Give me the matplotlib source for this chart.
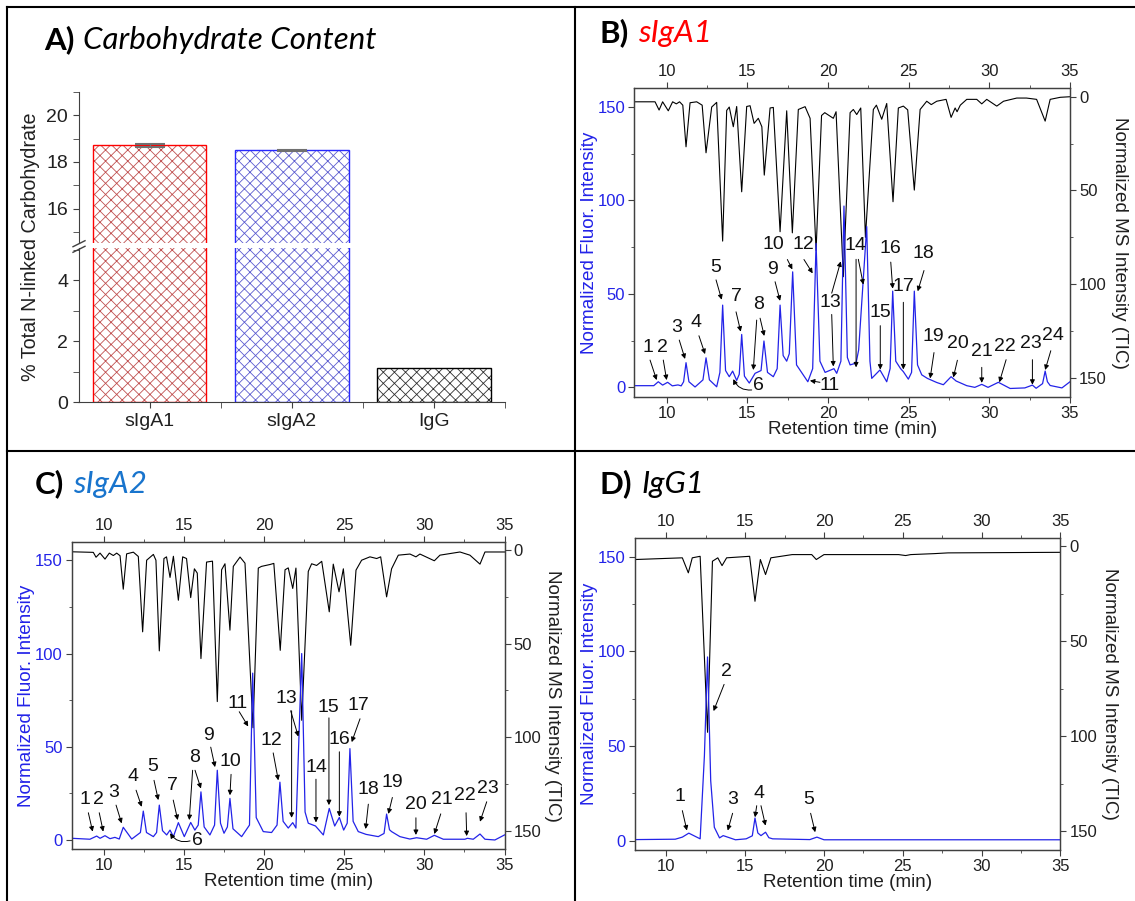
import numpy as np
import matplotlib
matplotlib.use('Agg')
import matplotlib.pyplot as plt
from matplotlib.ticker import MultipleLocator
from matplotlib.lines import Line2D

plt.rcParams['font.family'] = ['Liberation Sans', 'DejaVu Sans']
plt.rcParams['hatch.linewidth'] = 0.6

# ---------------- data ----------------
# A) carbohydrate content
samples = ['sIgA1', 'sIgA2', 'IgG']
carb_pct = [18.71, 18.50, 1.13]
carb_err = [0.06, 0.01, 0.0]

# B) sIgA1 fluorescence trace (time, intensity)
b_fl_t = [8.0, 9.2, 9.48, 9.75, 10.06, 10.35, 10.7, 10.9, 11.05, 11.2, 11.38, 11.76, 12.25, 12.44,
          12.65, 13.1, 13.3, 13.47, 13.65, 13.88, 14.09, 14.34, 14.5, 14.65, 14.82, 15.12, 15.48,
          15.85, 16.03, 16.25, 16.61, 16.85, 17.03, 17.22, 17.44, 17.6, 17.81, 18.05, 18.75, 19.05,
          19.26, 19.5, 19.82, 20.37, 20.54, 20.8, 20.99, 21.2, 21.37, 21.74, 21.9, 22.4, 22.6,
          22.71, 23.22, 23.64, 23.85, 24.01, 24.2, 24.5, 24.67, 24.98, 25.18, 25.35, 25.55, 25.81,
          26.16, 26.74, 27.15, 27.63, 27.94, 28.6, 29.1, 29.53, 29.92, 30.56, 31.29, 32.2, 32.67,
          32.9, 33.3, 33.46, 33.6, 33.77, 34.5, 35.0]
b_fl_y = [0.9, 0.9, 3.0, 1.2, 2.7, 0.8, 1.3, 0.8, 3, 13.2, 3, 0.2, 4, 15.8,
          4, 0.3, 8, 44, 9, 5.7, 8.7, 3.7, 7, 28.3, 6, 2.3, 7.5,
          9, 24.8, 8, 5.7, 10, 44, 17, 14, 18, 61.8, 12, 3, 10,
          77, 14, 8, 10, 7.5, 14, 97, 16, 12, 13, 20, 86, 14,
          4.8, 9.3, 3, 10, 51.5, 14, 10, 8.4, 4.4, 8, 51.5, 12, 6.7,
          4.8, 2.6, 1.4, 5.7, 3.4, 0.9, 0, 1.6, 0, 2.7, -0.6, -0.3, 1.2,
          -0.5, 2, 8.7, 3, 1, -0.3, 3]
# B) sIgA1 MS TIC trace
b_ms_t = [8.0, 9.28, 9.53, 9.75, 10.1, 10.37, 10.6, 10.8, 11.0, 11.2, 11.45, 11.86, 12.2, 12.44,
          12.79, 13.1, 13.47, 13.72, 13.88, 14.13, 14.34, 14.65, 14.96, 15.17, 15.42, 15.68, 15.9,
          16.05, 16.41, 16.61, 17.03, 17.44, 17.79, 18.16, 18.58, 18.89, 19.26, 19.6, 19.8, 20.33,
          20.5, 20.95, 21.37, 21.57, 21.78, 22.03, 22.32, 22.81, 23.0, 23.33, 23.64, 24.03, 24.36,
          24.67, 24.94, 25.35, 25.71, 26.12, 26.4, 26.74, 27.32, 27.63, 27.88, 28.0, 28.2, 28.6,
          29.22, 29.53, 29.84, 30.46, 30.88, 31.7, 32.3, 32.93, 33.46, 33.77, 34.4, 35.0]
b_ms_y = [2.7, 2.7, 7.1, 2.7, 7.5, 2.7, 3.8, 2.7, 4.5, 26.7, 3.2, 2.7, 4.5, 29.9,
          5.5, 3.0, 77, 7.3, 5.5, 16, 5.2, 50.7, 5.2, 4.8, 14.2, 11.5, 16,
          41.8, 6, 5.7, 72, 7.5, 72.6, 6.8, 5.3, 11.5, 82, 10, 8.5, 11.5,
          8, 96, 8.5, 6.8, 9.5, 6, 75, 6.8, 4.5, 12, 3.6, 56, 6,
          5, 7, 49.8, 6.8, 2.4, 4.2, 2.4, 1.4, 11, 6, 8, 4.5, 1.4,
          1.4, 3.8, 1.4, 5, 2.4, 0.7, 0.7, 1.4, 13, 1.4, 0.3, 0]

# C) sIgA2 fluorescence trace
c_fl_t = [8.0, 9.12, 9.54, 9.75, 10.06, 10.37, 10.68, 10.95, 11.2, 11.73, 12.27, 12.45, 12.65,
          13.08, 13.28, 13.45, 13.65, 13.91, 14.12, 14.33, 14.64, 15.01, 15.41, 15.67, 15.88, 16.05,
          16.25, 16.61, 16.9, 17.07, 17.27, 17.49, 17.7, 17.86, 18.05, 18.59, 19.08, 19.28, 19.5,
          19.94, 20.46, 20.8, 20.98, 21.18, 21.5, 21.78, 21.98, 22.34, 22.55, 22.75, 23.2, 23.69,
          24.06, 24.4, 24.69, 24.96, 25.18, 25.35, 25.55, 25.87, 26.36, 27.12, 27.48, 27.64, 27.82,
          27.95, 28.47, 29.09, 29.51, 30.14, 30.62, 31.18, 32.53, 32.68, 33.05, 33.47, 33.78,
          34.4, 35.0]
c_fl_y = [0.9, 0.4, 2.1, 0.9, 2.3, 0.7, 1.4, 0.5, 6.8, 0.5, 4, 15.5, 4,
          1.8, 4, 18.7, 5, 2.7, 5.3, 1.8, 9.3, 1.8, 9.4, 5.3, 8, 25.8,
          7, 2.7, 8, 37.4, 9, 3.6, 7, 22.3, 6, 1.8, 8, 89.5, 12,
          4.5, 4.0, 8, 31, 10, 6.4, 9.3, 6.4, 100, 15, 9, 7.5, 2.7,
          16.9, 7.5, 12.1, 5.3, 9, 49, 10, 4.5, 3, 1.8, 3.5, 13.9, 5.5,
          4.5, 1.8, 0.5, 1.2, 0.4, 2.5, 0.4, 0.4, 0.9, 0.4, 3.2, 0.4,
          0, 2.7]
# C) sIgA2 MS TIC trace
c_ms_t = [8.0, 9.33, 9.5, 9.75, 10.06, 10.33, 10.58, 10.79, 11.0, 11.2, 11.41, 11.83, 12.14, 12.41,
          12.66, 13.08, 13.24, 13.45, 13.74, 13.9, 14.12, 14.33, 14.64, 14.91, 15.15, 15.41, 15.64,
          15.82, 16.05, 16.4, 16.77, 17.07, 17.34, 17.55, 17.86, 18.07, 18.49, 18.8, 19.3, 19.63,
          19.83, 20.36, 20.6, 21.0, 21.3, 21.5, 21.78, 21.98, 22.34, 22.75, 22.96, 23.27, 23.59,
          24.06, 24.31, 24.67, 24.94, 25.4, 25.73, 26.08, 26.6, 27.02, 27.27, 27.64, 27.95, 28.37,
          29.1, 29.47, 29.72, 30.62, 30.97, 32.22, 32.84, 33.47, 33.78, 35.0]
c_ms_y = [0.9, 1.2, 3.8, 1.6, 4.8, 1.6, 2.9, 1.6, 3.0, 20.9, 2.0, 1.1, 3.4, 43.7,
          5.4, 2.3, 5.4, 53.9, 4.5, 3.6, 14.6, 3.3, 26.8, 3.6, 4.5, 25.4, 10,
          12.3, 58, 6.4, 5.9, 81, 10.5, 7.3, 42.8, 8.7, 3.7, 7.0, 95, 9.6,
          8.7, 7.7, 7.1, 53.6, 10.5, 9.5, 20.5, 9.6, 91, 11.4, 7.3, 8.2, 6.0,
          33, 7.5, 22.3, 10, 50.9, 10.7, 5.4, 3.6, 4.5, 3.6, 25, 10, 2.7,
          2.1, 3.6, 2.1, 5.7, 2.7, 1.0, 2.7, 7.5, 1.0, 1.0]

# D) IgG1 fluorescence trace
d_fl_t = [8.0, 10.56, 11.01, 11.42, 12.14, 12.41, 12.61, 12.81, 13.04, 13.37, 13.6, 14.38, 15.06,
          15.45, 15.62, 15.8, 16.0, 16.29, 16.5, 16.74, 19.1, 19.55, 20.0, 35.0]
d_fl_y = [0.5, 0.7, 1.8, 3.9, 0.9, 44.7, 97, 31.6, 7, 1.4, 2.6, 0.4, 0.9,
          2.5, 11.9, 4, 2.6, 4.4, 1.5, 0.9, 0.5, 1.8, 0.4, 0.4]
# D) IgG1 MS TIC trace
d_ms_t = [8.0, 11.01, 11.39, 11.64, 12.14, 12.61, 12.92, 13.26, 13.53, 13.82, 15.28, 15.62, 15.96,
          16.29, 16.63, 17.98, 19.22, 19.51, 20.0, 24.73, 25.18, 25.5, 26.97, 27.87, 35.0]
d_ms_y = [7.0, 6.1, 14, 6.1, 5.3, 98, 7.9, 6.1, 10.2, 6.1, 5.3, 29, 7,
          14.9, 6.1, 4.4, 4.4, 7, 4.4, 4.4, 4.9, 4.4, 3.9, 3.5, 3.2]

# ---------------- peak labels (text position, arrows tail->head) ----------------
b_marks = [
    ('1', 8.82, 21.2, [(8.97, 14.6, 9.38, 3.9)]),
    ('2', 9.71, 21.2, [(9.79, 14.6, 10.0, 3.9)]),
    ('3', 10.65, 31.8, [(10.78, 25.3, 11.14, 15.2)]),
    ('4', 11.84, 34.8, [(12.0, 27.6, 12.38, 17.8)]),
    ('5', 13.02, 64.3, [(13.06, 57.5, 13.41, 46.9)]),
    ('6', 15.7, 1.1, [(15.27, -1.4, 14.13, 4.4)]),
    ('7', 14.32, 48.6, [(14.3, 40.4, 14.59, 29.8)]),
    ('8', 15.7, 44.2, [(15.58, 36, 15.37, 9.3), (15.79, 37, 16.05, 27.5)]),
    ('9', 16.59, 63.1, [(16.72, 56.5, 17.03, 46.3)]),
    ('10', 16.59, 76.5, [(17.48, 68.4, 17.79, 63.1)]),
    ('11', 20.07, 1.2, [(19.5, 2.7, 18.88, 3.6)]),
    ('12', 18.47, 76.5, [(18.51, 68.4, 19.05, 61)]),
    ('13', 20.13, 45.4, [(20.23, 50.4, 20.79, 67.4), (20.23, 39, 20.33, 11.2)]),
    ('14', 21.7, 76.1, [(21.74, 68.5, 21.74, 10.7), (21.88, 68.5, 22.19, 55)]),
    ('15', 23.23, 40.1, [(23.24, 33, 23.24, 9.5)]),
    ('16', 23.85, 74.3, [(23.89, 67, 24.01, 52.8)]),
    ('17', 24.69, 53.8, [(24.67, 45.5, 24.67, 9.6)]),
    ('18', 25.89, 71.6, [(25.95, 62.5, 25.56, 51.4)]),
    ('19', 26.53, 27.1, [(26.57, 18.6, 26.33, 4.8)]),
    ('20', 28.04, 23.5, [(28.02, 14.5, 27.77, 5.3)]),
    ('21', 29.53, 19.0, [(29.53, 10.7, 29.53, 2.4)]),
    ('22', 30.98, 21.7, [(31.04, 14.8, 30.62, 2.7)]),
    ('23', 32.57, 23.3, [(32.67, 14.8, 32.67, 1.4)]),
    ('24', 33.95, 27.8, [(33.81, 19.6, 33.46, 9.3)]),
]
c_marks = [
    ('1', 8.81, 21.5, [(9.02, 14.6, 9.29, 4.5)]),
    ('2', 9.64, 21.5, [(9.7, 14.6, 9.95, 4.5)]),
    ('3', 10.6, 25.3, [(10.75, 18.7, 11.1, 8.9)]),
    ('4', 11.83, 34.0, [(12.0, 26.7, 12.35, 17.8)]),
    ('5', 13.04, 39.3, [(13.12, 32, 13.39, 21.4)]),
    ('6', 15.8, -0.5, [(15.37, -0.5, 14.12, 3.6)]),
    ('7', 14.3, 29.2, [(14.32, 21.4, 14.6, 10.7)]),
    ('8', 15.63, 44.3, [(15.53, 37.4, 15.32, 10.7), (15.68, 37.4, 16.05, 27.6)]),
    ('9', 16.53, 56.2, [(16.66, 49.8, 16.93, 39.1)]),
    ('10', 17.9, 42.3, [(17.93, 35.2, 17.86, 24)]),
    ('11', 18.32, 73.0, [(18.44, 68.8, 19.0, 60.9)]),
    ('12', 20.47, 53.4, [(20.56, 46.7, 20.88, 32)]),
    ('13', 21.38, 75.7, [(21.65, 69.3, 22.13, 55.5), (21.71, 69.3, 21.71, 11.9)]),
    ('14', 23.27, 39.1, [(23.23, 32.6, 23.23, 9.4)]),
    ('15', 24.02, 71.2, [(24.04, 65.5, 24.04, 18.7)]),
    ('16', 24.69, 53.8, [(24.69, 47.3, 24.69, 12.5)]),
    ('17', 25.87, 72.1, [(25.98, 65, 25.46, 52.5)]),
    ('18', 26.52, 26.9, [(26.5, 19.2, 26.33, 5.9)]),
    ('19', 28.02, 31.1, [(28.0, 22.8, 27.75, 14)]),
    ('20', 29.49, 19.2, [(29.47, 11.9, 29.47, 2.7)]),
    ('21', 31.08, 21.7, [(31.02, 14, 30.62, 3.2)]),
    ('22', 32.51, 23.9, [(32.6, 14.6, 32.64, 2.1)]),
    ('23', 33.95, 27.6, [(33.89, 20.5, 33.47, 9.8)]),
]
d_marks = [
    ('1', 10.88, 23.2, [(11.01, 15.8, 11.3, 5.3)]),
    ('2', 13.78, 89.1, [(13.66, 82.5, 12.99, 68.4)]),
    ('3', 14.18, 21.6, [(14.2, 14.4, 13.89, 5.3)]),
    ('4', 15.87, 25.1, [(15.73, 18.4, 15.62, 12.3), (16.0, 18.4, 16.29, 7.9)]),
    ('5', 19.02, 21.6, [(19.15, 14.4, 19.44, 4.4)]),
]

# ---------------- figure ----------------
W, H = 1135, 901
fig = plt.figure(figsize=(W / 100, H / 100), dpi=100)


def box(l, t, r, b):
    return [l / W, 1 - b / H, (r - l) / W, (b - t) / H]


spine_c = '#404040'
blue = '#2323e8'
title_font = ['Lato', 'DejaVu Sans']


def title(x, y, first, second, color):
    t1 = fig.text(x / W, 1 - y / H, first, fontsize=22.5, weight='bold', family=title_font,
                  va='center', ha='left')
    fig.canvas.draw()
    bb = t1.get_window_extent()
    fig.text((bb.x1 + 9) / W, 1 - y / H, second, fontsize=22.5, style='italic',
             family=title_font, va='center', ha='left', color=color)


# ---- panel A ----
xs = np.arange(len(samples))
hatch_cols = ['#c05050', '#5c5cd0', '#303030']
edge_cols = ['#ff0000', '#2828ff', '#000000']
axA_lo = fig.add_axes(box(78.5, 248.3, 505, 402.3))
axA_hi = fig.add_axes(box(78.5, 91.7, 505, 243.3))
for a in (axA_lo, axA_hi):
    a.bar(xs, carb_pct, 0.8, color='white', edgecolor=hatch_cols, hatch='xxx', lw=0)
    a.bar(xs, carb_pct, 0.8, fill=False, edgecolor=edge_cols, lw=1.0)
    a.set_xlim(-0.5, 2.5)
    for s in ('top', 'right'):
        a.spines[s].set_visible(False)
    for s in ('left', 'bottom'):
        a.spines[s].set_color(spine_c)
    a.tick_params(colors=spine_c, labelcolor='#202020', labelsize=14, direction='out',
                  length=4, which='both')
axA_hi.errorbar(xs[:2], carb_pct[:2], yerr=carb_err[:2], fmt='none', ecolor='#707070',
                elinewidth=1, capsize=11, capthick=1.5)
axA_lo.set_ylim(0, 5.05)
axA_lo.yaxis.set_major_locator(MultipleLocator(2))
axA_lo.yaxis.set_minor_locator(MultipleLocator(1))
axA_lo.set_xticks(xs)
axA_lo.set_xticklabels(samples, fontsize=14)
axA_lo.set_xticks([0.5, 1.5, 2.5], minor=True)
axA_hi.set_ylim(14.53, 21.0)
axA_hi.yaxis.set_major_locator(MultipleLocator(2))
axA_hi.yaxis.set_minor_locator(MultipleLocator(1))
axA_hi.spines['bottom'].set_visible(False)
axA_hi.set_xticks([])
axA_hi.set_xticks([], minor=True)
fig.text(31 / W, 1 - 247 / H, '% Total N-linked Carbohydrate', rotation=90, fontsize=14.2,
         ha='center', va='center', color='#202020')
for y0 in (240.7, 246.3):
    fig.add_artist(Line2D([73 / W, 85 / W], [1 - (y0 + 6) / H, 1 - y0 / H], color=spine_c, lw=1))
title(44, 40, 'A)', 'Carbohydrate Content', 'black')


# ---- chromatogram panels ----
def chrom(rect, fl_t, fl_y, ms_t, ms_y, marks, rpad):
    ax = fig.add_axes(rect)
    ax2 = ax.twinx()
    ax.set_zorder(ax2.get_zorder() + 1)
    ax.patch.set_visible(False)
    ax2.plot(ms_t, ms_y, color='black', lw=0.8)
    ax.plot(fl_t, fl_y, color=blue, lw=0.9)
    ax.set_xlim(8, 35)
    ax.set_ylim(-5, 160)
    ax2.set_ylim(160, -4.5)
    ax.xaxis.set_major_locator(MultipleLocator(5))
    ax.xaxis.set_minor_locator(MultipleLocator(2.5))
    for a in (ax, ax2):
        a.yaxis.set_major_locator(MultipleLocator(50))
        a.yaxis.set_minor_locator(MultipleLocator(25))
        for s in a.spines.values():
            s.set_color(spine_c)
            s.set_linewidth(0.9)
    ax.tick_params(axis='x', which='both', top=True, labeltop=True, direction='out',
                   colors=spine_c, labelcolor='#202020', labelsize=12)
    ax.tick_params(axis='y', which='both', direction='out', colors=spine_c,
                   labelcolor=blue, labelsize=12)
    ax2.tick_params(axis='y', which='both', direction='out', colors=spine_c,
                    labelcolor='#202020', labelsize=12)
    for a in (ax, ax2):
        a.tick_params(which='major', length=4, pad=2.5)
        a.tick_params(which='minor', length=2.5)
    ax.set_xlabel('Retention time (min)', fontsize=13.6, labelpad=0, color='#202020')
    ax.set_ylabel('Normalized Fluor. Intensity', fontsize=13.6, color=blue, labelpad=0)
    ax2.set_ylabel('Normalized MS Intensity (TIC)', fontsize=13.6, rotation=270,
                   labelpad=rpad, color='#202020')
    for lab, tx, ty, arrows in marks:
        ax.text(tx, ty, lab, fontsize=14, ha='center', va='center', color='#111111')
        for x0, y0, x1, y1 in arrows:
            cs = 'arc3,rad=-0.35' if lab == '6' else 'arc3'
            ax.annotate('', xy=(x1, y1), xytext=(x0, y0),
                        arrowprops=dict(arrowstyle='-|>', color='black', lw=0.7,
                                        mutation_scale=7, shrinkA=0, shrinkB=0,
                                        connectionstyle=cs))
    return ax, ax2


chrom(box(634.4, 88.3, 1070, 396.7), b_fl_t, b_fl_y, b_ms_t, b_ms_y, b_marks, 15)
chrom(box(72, 541.7, 504.5, 849.3), c_fl_t, c_fl_y, c_ms_t, c_ms_y, c_marks, 14)
chrom(box(634.9, 537.7, 1060.4, 850), d_fl_t, d_fl_y, d_ms_t, d_ms_y, d_marks, 15)

title(600, 33, 'B)', 'sIgA1', '#ff0000')
title(35, 484, 'C)', 'sIgA2', '#1874cd')
title(600, 484, 'D)', 'IgG1', 'black')

# panel frame lines
for xx, yy in (([7, 1135], [7, 7]), ([7, 7], [7, 901]), ([575, 575], [7, 901]),
               ([7, 1135], [451, 451])):
    fig.add_artist(Line2D([v / W for v in xx], [1 - v / H for v in yy], color='black', lw=1.5))

fig.savefig('out.png', dpi=100)
